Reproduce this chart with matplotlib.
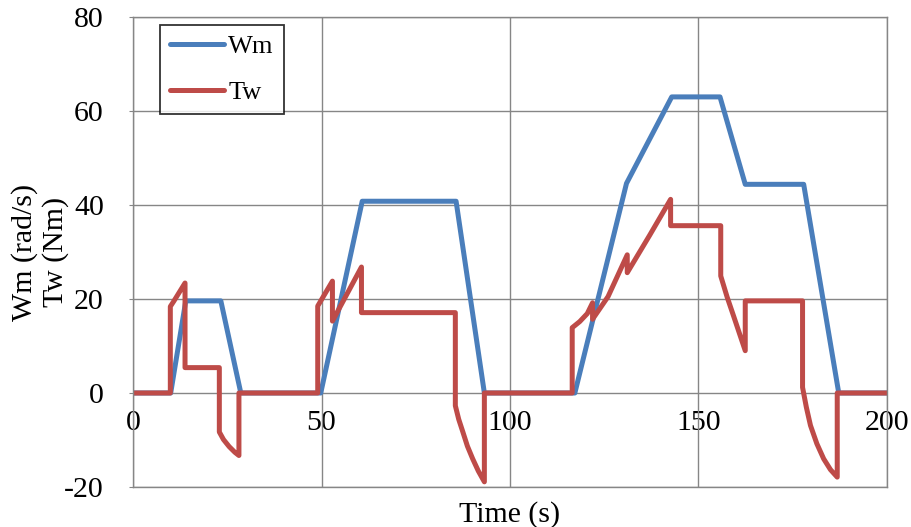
import matplotlib.pyplot as plt
import numpy as np

plt.rcParams['font.family'] = ['Liberation Serif', 'DejaVu Serif']
plt.rcParams['font.size'] = 21.5
plt.rcParams['axes.unicode_minus'] = False

# Motor speed Wm (rad/s) over time
t_wm = [0, 10.0, 14.0, 23.3, 28.6, 49.8, 60.8, 85.7, 93.2, 117.2, 130.9, 142.9,
        155.7, 162.4, 177.9, 187.2, 200]
wm = [0, 0, 19.6, 19.6, 0, 0, 40.8, 40.8, 0, 0, 44.6, 63.0,
      63.0, 44.4, 44.4, 0, 0]

# Wheel torque Tw (Nm) over time
t_tw = [0, 9.9, 9.9, 10.8, 13.8, 13.8, 22.9, 22.9, 24.0, 25.5, 27.0, 28.1, 28.1,
        49.0, 49.0, 52.9, 52.9, 60.6, 60.6, 85.5, 85.5, 86.4, 87.5, 88.7, 90.1, 91.6, 93.2, 93.2,
        116.5, 116.5, 118.5, 120.5, 121.9, 121.9, 126.0, 131.1, 131.1, 137.0, 142.6, 142.6,
        155.9, 155.9, 157.6, 159.3, 162.4, 162.4, 177.6, 177.6, 178.6, 179.7, 181.4, 183.2, 185.0, 186.8, 186.8, 200]
tw = [0, 0, 18.4, 19.5, 23.4, 5.4, 5.4, -8.3, -9.9, -11.4, -12.6, -13.3, 0,
      0, 18.5, 23.8, 15.3, 26.8, 17.1, 17.1, -2.7, -5.6, -8.3, -11.3, -14.0, -16.6, -18.9, 0,
      0, 13.9, 15.2, 16.9, 19.2, 15.7, 20.5, 29.4, 25.6, 33.5, 41.2, 35.6,
      35.6, 24.9, 20.4, 16.4, 9.0, 19.6, 19.6, 1.2, -3.0, -6.9, -10.8, -14.0, -16.3, -17.9, 0, 0]

x_ticks = [0, 50, 100, 150, 200]
y_ticks = [-20, 0, 20, 40, 60, 80]

fig = plt.figure(figsize=(9.12, 5.27), dpi=100)
ax = fig.add_axes([133 / 912, 1 - 487 / 527, 754 / 912, 470 / 527])

grid_col = '#868686'
line_kw = dict(linewidth=3.6, solid_capstyle='round', solid_joinstyle='round')
ax.plot(t_wm, wm, color='#4A7EBB', label='Wm', **line_kw)
ax.plot(t_tw, tw, color='#BE4B48', label='Tw', **line_kw)

ax.set_xlim(0, 200)
ax.set_ylim(-20, 80)
ax.set_xticks(x_ticks)
ax.set_yticks(y_ticks)
ax.grid(True, color=grid_col, linewidth=1.0)
ax.set_axisbelow(True)
for s in ax.spines.values():
    s.set_color(grid_col)
    s.set_linewidth(1.0)

# x labels sit on the zero line, not at the bottom of the frame
ax.tick_params(axis='x', length=0, labelbottom=False)
ax.tick_params(axis='y', length=3, color=grid_col, pad=18)
sec = ax.secondary_xaxis(0.2)
sec.set_xticks(x_ticks)
sec.spines['bottom'].set_visible(False)
sec.tick_params(length=0, pad=12)

ax.set_xlabel('Time (s)', labelpad=10)
ax.set_ylabel('Wm (rad/s)\nTw (Nm)', linespacing=1.2)
ax.yaxis.set_label_coords(-0.085, 0.5)

leg = ax.legend(loc='upper left', bbox_to_anchor=(0.036, 0.983), borderaxespad=0,
                fontsize=19, frameon=True, fancybox=False, edgecolor='black',
                handlelength=2.05, handletextpad=0.15, borderpad=0.38, labelspacing=0.85)
leg.get_frame().set_linewidth(1.3)

plt.savefig('out.png', dpi=100)
